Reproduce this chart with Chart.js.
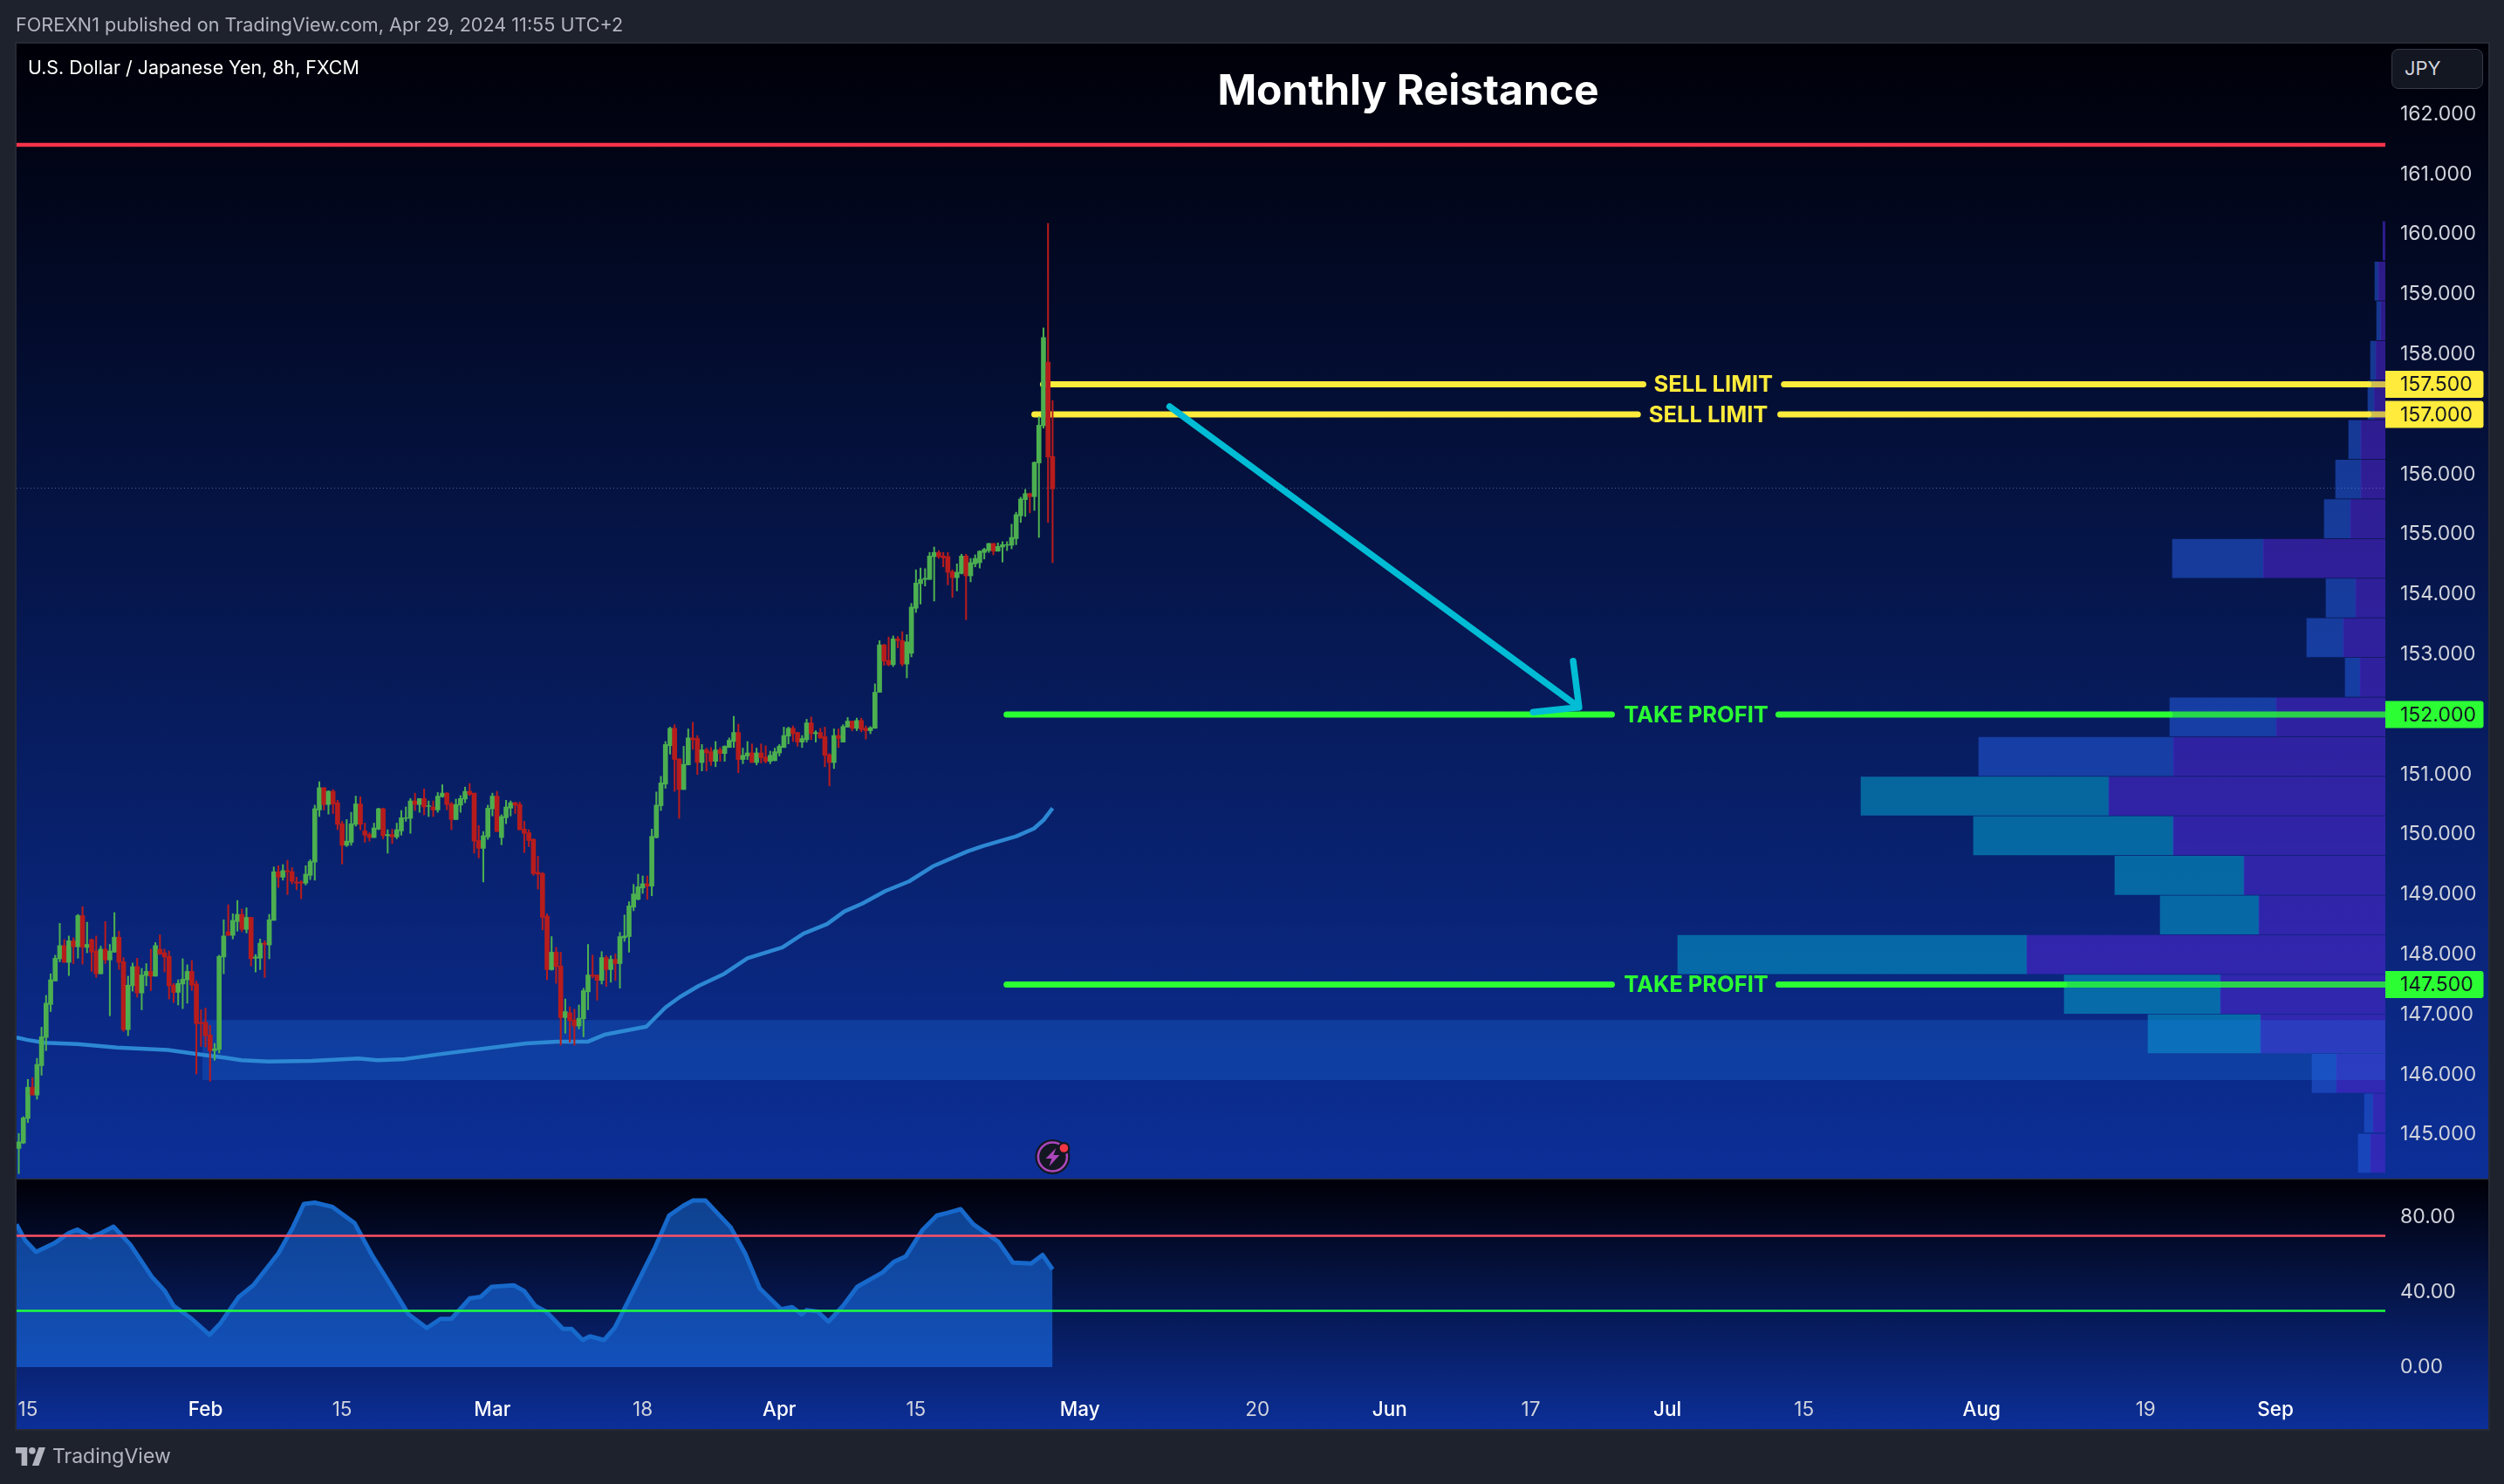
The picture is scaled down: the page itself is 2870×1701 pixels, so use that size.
<!DOCTYPE html>
<html>
<head>
<meta charset="utf-8">
<title>USD/JPY</title>
<script src="https://cdn.jsdelivr.net/npm/chart.js@4/dist/chart.umd.js"></script>
<style>
html, body { margin: 0; padding: 0; background: #1e222d; overflow: hidden; }
body { width: 2870px; height: 1701px; position: relative; font-family: Inter, sans-serif; }
canvas { position: absolute; left: 0; top: 0; }
.txt { position: absolute; white-space: nowrap; }
#published { left: 18px; top: 15px; font-size: 21.6px; color: #b2b5be; }
#symbol { left: 32px; top: 64px; font-size: 21.4px; color: #ffffff; }
#title { left: 1314px; width: 600px; top: 73px; text-align: center; font-size: 48px; font-weight: 700; color: #ffffff; }
#currency { left: 2741px; top: 56px; width: 105px; height: 46px; box-sizing: border-box; border: 1.5px solid #363a45; border-radius: 8px; background: #131722; color: #d1d4dc; font-size: 22px; line-height: 42px; padding-left: 14px; }
#brand { left: 60px; top: 1655px; font-size: 23px; color: #b2b5be; }
#logo { position: absolute; left: 18px; top: 1659px; }
</style>
</head>
<body>
<canvas id="chart" width="2870" height="1701"></canvas>
<div class="txt" id="published">FOREXN1 published on TradingView.com, Apr 29, 2024 11:55 UTC+2</div>
<div class="txt" id="symbol">U.S. Dollar / Japanese Yen, 8h, FXCM</div>
<div class="txt" id="title">Monthly Reistance</div>
<div class="txt" id="currency">JPY</div>
<svg id="logo" width="34" height="21" viewBox="0 0 36 22" fill="#b2b5be"><path d="M14 22H7V7H0V0h14v22zM28 22h-8L28 0h8l-8 22z"/><circle cx="20" cy="4" r="4"/></svg>
<div class="txt" id="brand">TradingView</div>
<script>
// candles, 8h bars, one entry per bar (bar number = position in the array)
const opens = [144.77,144.86,145.27,145.79,145.66,146.15,146.62,147.17,147.56,147.93,148.15,147.87,148.23,148.13,148.65,148.12,148.25,148.06,147.68,148.09,147.91,148.04,148.29,147.88,146.75,147.48,147.80,147.36,147.65,147.72,147.64,148.09,148.03,147.97,147.49,147.37,147.51,147.58,147.72,147.51,146.87,146.87,146.66,146.40,146.42,147.96,148.38,148.32,148.55,148.67,148.42,148.62,147.94,147.94,148.19,148.16,
148.57,149.38,149.29,149.40,149.38,149.21,149.21,149.19,149.32,149.54,150.41,150.78,150.50,150.72,150.53,150.18,149.82,149.87,150.17,150.51,150.06,150.00,149.95,150.09,150.43,149.98,150.00,149.96,150.06,150.27,150.27,150.56,150.50,150.60,150.47,150.46,150.41,150.63,150.69,150.51,150.25,150.49,150.59,150.72,150.69,149.90,149.77,149.96,150.43,150.64,149.95,150.28,150.44,150.53,150.50,150.09,150.03,149.92,149.37,149.35,148.64,147.75,148.04,147.81,146.95,
147.03,146.91,146.81,146.93,147.38,147.66,147.66,147.57,147.95,147.75,147.92,147.85,148.28,148.30,148.79,148.92,149.11,149.18,149.14,149.95,150.48,150.84,151.48,151.77,151.26,150.75,151.16,151.61,151.60,151.20,151.41,151.38,151.22,151.41,151.35,151.45,151.55,151.70,151.25,151.31,151.36,151.20,151.36,151.29,151.22,151.23,151.36,151.45,151.64,151.77,151.70,151.54,151.58,151.86,151.68,151.70,151.63,151.33,151.20,151.65,151.54,151.79,151.89,
151.77,151.90,151.77,151.73,151.77,152.37,153.16,152.90,152.83,153.26,153.23,152.84,153.02,153.77,154.18,154.25,154.25,154.63,154.70,154.64,154.63,154.38,154.28,154.35,154.64,154.31,154.51,154.53,154.70,154.73,154.85,154.72,154.79,154.82,154.82,154.93,155.31,155.58,155.68,155.63,156.19,156.81,157.87,156.30];
const highs = [145.02,145.30,145.92,145.95,146.27,146.79,147.32,147.68,147.99,148.52,148.25,148.31,148.28,148.67,148.80,148.54,148.26,148.31,148.14,148.55,148.17,148.70,148.39,147.95,147.64,147.86,147.94,147.77,147.85,148.09,148.20,148.33,148.09,148.06,147.52,147.58,147.93,147.83,147.90,147.56,147.08,147.11,146.82,146.52,147.99,148.58,148.83,148.68,148.90,148.76,148.78,148.62,148.00,148.26,148.23,148.67,
149.46,149.48,149.50,149.57,149.45,149.29,149.23,149.48,149.58,150.49,150.88,150.78,150.73,150.75,150.57,150.22,150.25,150.37,150.64,150.63,150.19,150.03,150.19,150.44,150.44,150.08,150.09,150.19,150.40,150.46,150.60,150.69,150.60,150.76,150.56,150.56,150.70,150.83,150.70,150.54,150.59,150.65,150.79,150.85,150.69,150.15,150.05,150.49,150.69,150.72,150.33,150.57,150.56,150.54,150.54,150.22,150.08,149.93,149.64,149.37,148.68,148.30,148.12,148.04,147.26,
147.13,147.09,147.16,147.44,148.17,147.99,147.66,148.05,147.98,147.98,148.01,148.37,148.66,148.88,149.17,149.34,149.31,149.31,150.09,150.71,150.97,151.55,151.79,151.83,151.26,151.47,151.76,151.87,151.65,151.50,151.44,151.45,151.55,151.45,151.48,151.61,151.97,151.84,151.44,151.55,151.51,151.44,151.51,151.48,151.39,151.44,151.50,151.79,151.79,151.81,151.70,151.65,151.92,151.96,151.73,151.77,151.79,151.35,151.76,151.76,151.83,151.95,151.89,
151.94,151.94,151.81,151.80,152.51,153.23,153.17,153.29,153.31,153.30,153.38,153.33,153.85,154.41,154.44,154.43,154.70,154.79,154.73,154.70,154.70,154.41,154.51,154.67,154.67,154.60,154.66,154.73,154.77,154.85,154.85,154.86,154.88,154.88,155.17,155.37,155.62,155.75,155.69,156.21,156.96,158.44,160.18,157.23];
const lows = [144.35,144.85,145.20,145.66,145.59,145.99,146.40,147.05,147.56,147.88,147.87,147.65,147.85,147.94,147.84,148.03,147.72,147.62,147.68,147.85,146.98,148.04,147.75,146.72,146.65,147.39,147.29,147.08,147.48,147.40,147.64,148.00,147.71,147.26,147.20,147.16,147.10,147.19,147.40,146.01,146.47,146.46,145.89,146.24,146.36,147.68,148.32,148.26,148.39,148.38,148.36,147.81,147.71,147.75,147.62,147.93,
148.57,149.12,149.24,149.00,149.18,149.08,148.93,149.16,149.25,149.24,150.30,150.41,150.34,150.35,150.08,149.51,149.80,149.82,150.14,150.08,149.87,149.89,149.95,150.08,149.93,149.69,149.85,149.93,149.99,150.22,150.02,150.40,150.37,150.33,150.30,150.30,150.37,150.62,150.41,150.08,150.25,150.37,150.53,150.65,149.69,149.61,149.21,149.92,150.31,150.05,149.83,150.18,150.31,150.35,150.08,149.70,149.80,149.32,149.09,148.41,147.58,147.74,147.52,146.49,146.69,
146.54,146.49,146.76,146.63,147.08,147.61,147.24,147.51,147.47,147.54,147.57,147.44,148.22,148.04,148.73,148.91,149.02,148.92,148.98,149.94,150.40,150.77,151.34,150.72,150.27,150.75,151.16,151.42,151.00,151.06,151.06,151.15,151.13,151.22,151.22,151.45,151.45,151.03,151.18,151.25,151.20,151.16,151.19,151.19,151.18,151.23,151.31,151.45,151.51,151.55,151.47,151.45,151.54,151.58,151.54,151.60,151.13,150.81,151.10,151.45,151.54,151.79,151.73,
151.73,151.71,151.59,151.68,151.77,152.37,152.82,152.81,152.80,153.11,152.81,152.61,152.96,153.70,153.84,154.14,154.25,153.89,154.60,154.46,154.16,153.95,154.06,154.34,153.58,154.21,154.46,154.44,154.59,154.70,154.66,154.72,154.54,154.73,154.76,154.83,155.20,155.30,155.36,155.40,154.95,156.77,155.20,154.53];
const closes = [144.88,145.28,145.79,145.66,146.17,146.63,147.19,147.58,147.94,148.15,147.87,148.23,148.13,148.65,148.12,148.17,148.04,147.68,148.09,147.91,148.06,148.29,147.87,146.75,147.49,147.80,147.36,147.66,147.72,147.64,148.15,148.01,147.96,147.48,147.37,147.52,147.59,147.72,147.49,146.85,146.85,146.65,146.40,146.43,147.97,148.31,148.32,148.57,148.67,148.42,148.62,147.93,147.96,148.19,148.17,148.58,
149.38,149.29,149.40,149.38,149.22,149.19,149.19,149.34,149.55,150.43,150.78,150.50,150.72,150.51,150.17,149.82,149.89,150.18,150.51,150.17,149.99,149.95,150.11,150.43,149.98,150.00,149.96,150.08,150.28,150.28,150.56,150.50,150.60,150.46,150.48,150.41,150.64,150.69,150.50,150.25,150.50,150.60,150.72,150.67,149.89,149.77,149.98,150.44,150.64,150.05,150.30,150.46,150.53,150.49,150.08,150.02,149.90,149.35,149.34,148.62,147.75,148.04,147.80,146.95,147.05,
146.90,146.81,146.94,147.40,147.66,147.64,147.57,147.95,147.75,147.92,147.85,148.30,148.31,148.81,149.01,149.13,149.18,149.14,149.97,150.49,150.86,151.50,151.77,151.25,150.75,151.17,151.61,151.58,151.20,151.41,151.36,151.22,151.41,151.35,151.47,151.57,151.70,151.25,151.32,151.36,151.20,151.36,151.28,151.22,151.32,151.38,151.47,151.65,151.77,151.68,151.54,151.60,151.86,151.68,151.70,151.61,151.32,151.20,151.65,151.60,151.80,151.89,151.77,
151.90,151.75,151.73,151.78,152.37,153.16,152.89,152.83,153.26,153.23,152.84,153.21,153.79,154.19,154.25,154.27,154.64,154.70,154.63,154.61,154.37,154.28,154.37,154.64,154.31,154.53,154.60,154.72,154.75,154.85,154.72,154.80,154.83,154.83,154.95,155.33,155.59,155.68,155.63,156.20,156.82,158.28,156.29,155.76];

// moving average, read where the line bends
const maBars = [-0.5,1.8,5.7,12.9,21.6,32.7,40.3,45.5,48.9,54.8,64.3,74.6,78.8,84.8,92.4,102.8,111.4,118.1,125,128.8,137.8,142,145.1,149.3,154.9,160,167.7,172.3,177.5,181.3,185.2,190.3,195.5,200.7,208.3,211.8,219,222.9,225,227];
const maValues = [146.62,146.58,146.53,146.51,146.45,146.41,146.33,146.28,146.24,146.22,146.23,146.27,146.24,146.26,146.34,146.44,146.52,146.55,146.55,146.67,146.80,147.12,147.29,147.48,147.68,147.94,148.12,148.35,148.51,148.72,148.85,149.06,149.22,149.47,149.72,149.81,149.97,150.10,150.24,150.44];

// RSI pane
const rsiBars = [-0.5,1.4,3.8,7.8,11,12.9,15.7,18.1,20.8,24.5,29.2,32.1,34,38,41.9,44.3,48.3,51.5,57,60.2,62.6,65,68.9,73.7,77.7,81.7,85.6,89.6,92.6,95,99,101.4,103.8,108.7,111,113.4,115.8,119.5,121.4,123.8,125.4,128.5,130.9,135.7,139.7,142.8,146,148,150.8,156.3,159.5,162.7,167.4,169.8,171.9,173,175.4,177.8,181,184.1,189.7,192.1,194.8,198.4,201.6,204,206.8,209.6,215.1,218.3,222.3,224.8,227];
const rsiValues = [76.1,67.6,61.4,66,71.5,73.3,69.2,71.5,74.9,65.3,48.2,40.5,32.7,25.7,17.2,23.4,37.4,43.6,60.6,74.6,87,87.7,85.4,76.9,59.1,43.6,28.1,20.8,25.7,25.7,36.6,37.4,42.8,43.6,40.5,32.7,29.6,20.3,20.3,14.4,16.4,14.4,21.1,44.3,63.7,80.8,86.2,88.8,88.8,74.6,60.6,42,30.8,32,28.1,30.4,29.6,24.2,32.7,42.8,50.5,56,59.1,73,80.8,82.3,84.2,76.1,66.8,55.7,55.2,59.8,52.1];
const rsiUpper = 70;
const rsiLower = 30;

// volume profile rows
const profilePrices = [159.89,159.22,158.56,157.90,157.24,156.58,155.92,155.26,154.60,153.94,153.28,152.62,151.96,151.30,150.64,149.98,149.32,148.66,148.00,147.34,146.68,146.02,145.36,144.69];
const profileSell = [2.4,8,5.3,11,13,28,28,40,140,34,48,29,125,243,317,243,162,145,411,189,143,56,14,17];
const profileBuy = [0,4,4.7,6,7,14,29,30,104,34,42,17,122,223,284,229,148,113,400,179,129,28,10,14];
const profileTeal = [false,false,false,false,false,false,false,false,false,false,false,false,false,false,true,true,true,true,true,true,true,false,false,false];

// drawn levels: price, where the line starts, the gap kept for its label, where the profile begins
const levelPrices = [157.5,157,152,147.5];
const levelColors = ["#ffeb3b","#ffeb3b","#2bff33","#2bff33"];
const levelOverlay = ["rgba(255,235,59,0.78)","rgba(255,235,59,0.78)","rgba(43,255,51,0.8)","rgba(43,255,51,0.8)"];
const levelStart = [224.9,223,216.9,216.9];
const gapStart = [356.7,355.5,349.8,349.8];
const gapEnd = [387.6,386.8,386.4,386.4];
const levelProfileEdge = [515.9,515.9,472.3,449.1];
const levelNames = ["SELL LIMIT","SELL LIMIT","TAKE PROFIT","TAKE PROFIT"];
const levelNameBars = [372.1,371,368.3,368.3];

const resistancePrice = 161.49;
const lastPrice = 155.77;
const zoneTop = 146.91;
const zoneBottom = 145.91;
const zoneStartBar = 40.3;

const arrowBars = [252.7,342.6,341.3,342.6,332.5];
const arrowPrices = [157.13,152.12,152.89,152.12,152.04];

const priceTicks = [145,146,147,148,149,150,151,152,153,154,155,156,158,159,160,161,162];
const rsiTicks = [0,40,80];
const timeTicks = [2,41,71,104,137,167,197,233,272,301,332,362,392,431,467,495.5];
const timeLabels = ["15","Feb","15","Mar","18","Apr","15","May","20","Jun","17","Jul","15","Aug","19","Sep"];

const GREEN = "#4caf50", RED = "#b71c1c";
const firstBar = -0.48, endBar = 519.64;

const bars = opens.map((o, i) => i);
const candleColors = bars.map(i => closes[i] >= opens[i] ? GREEN : RED);
const points = (xs, ys) => xs.map((x, i) => ({ x: x, y: ys[i] }));
const hLine = (from, to, y) => [{ x: from, y: y }, { x: to, y: y }];

const lineBase = { type: "line", pointRadius: 0, tension: 0, fill: false, clip: 0, xAxisID: "x", yAxisID: "y" };
const datasets = [];

// profile, sell side against the axis, buy side beyond it
datasets.push({
    type: "bar", indexAxis: "y", xAxisID: "xVol", yAxisID: "y", grouped: false, barThickness: 44, order: 60,
    data: profilePrices.map((p, i) => ({ x: [0, profileSell[i]], y: p })),
    backgroundColor: "rgba(75,38,205,0.6)"
});
datasets.push({
    type: "bar", indexAxis: "y", xAxisID: "xVol", yAxisID: "y", grouped: false, barThickness: 44, order: 60,
    data: profilePrices.map((p, i) => ({ x: [profileSell[i], profileSell[i] + profileBuy[i]], y: p })),
    backgroundColor: profileTeal.map(t => t ? "rgba(5,152,197,0.6)" : "rgba(33,85,210,0.6)")
});

// demand zone
datasets.push({
    ...lineBase, order: 50, borderWidth: 0, backgroundColor: "rgba(27,122,236,0.25)",
    data: hLine(zoneStartBar, endBar, zoneTop), fill: { value: zoneBottom }
});

// red resistance and last price dots
datasets.push({ ...lineBase, order: 45, borderColor: "#f7334a", borderWidth: 4.5, data: hLine(firstBar, endBar, resistancePrice) });
datasets.push({ ...lineBase, order: 45, borderColor: "rgba(130,150,210,0.6)", borderWidth: 1, borderDash: [1, 3], data: hLine(firstBar, endBar, lastPrice) });

// sell limit / take profit levels
levelPrices.forEach((p, i) => {
    const seg = { ...lineBase, order: 40, borderColor: levelColors[i], borderWidth: 7, borderCapStyle: "round" };
    datasets.push({ ...seg, data: hLine(levelStart[i], gapStart[i], p) });
    datasets.push({ ...seg, data: hLine(gapEnd[i], levelProfileEdge[i], p) });
    datasets.push({ ...seg, borderCapStyle: "butt", borderColor: levelOverlay[i], data: hLine(levelProfileEdge[i], endBar, p) });
});

// moving average under the candles
datasets.push({ ...lineBase, order: 30, borderColor: "#2d88d4", borderWidth: 4.5, borderJoinStyle: "round", data: points(maBars, maValues) });

// candles: wick then body
datasets.push({
    type: "bar", xAxisID: "x", yAxisID: "y", grouped: false, barThickness: 1.4, order: 20,
    data: bars.map(i => ({ x: i, y: [lows[i], highs[i]] })), backgroundColor: candleColors
});
datasets.push({
    type: "bar", xAxisID: "x", yAxisID: "y", grouped: false, barThickness: 5, order: 19,
    data: bars.map(i => ({ x: i, y: [opens[i], closes[i]] })), backgroundColor: candleColors
});

// arrow
datasets.push({
    ...lineBase, order: 10, borderColor: "#00bcd4", borderWidth: 7.5, borderCapStyle: "round", borderJoinStyle: "round",
    data: points(arrowBars, arrowPrices)
});

// RSI pane
datasets.push({
    ...lineBase, yAxisID: "yRsi", order: 35, borderColor: "#1769cb", borderWidth: 5, borderJoinStyle: "round",
    backgroundColor: "rgba(28,118,246,0.55)", fill: { value: 0 }, data: points(rsiBars, rsiValues)
});
datasets.push({ ...lineBase, yAxisID: "yRsi", order: 34, borderColor: "#ff5264", borderWidth: 2.5, data: hLine(firstBar, endBar, rsiUpper) });
datasets.push({ ...lineBase, yAxisID: "yRsi", order: 34, borderColor: "#1eff3c", borderWidth: 2.5, data: hLine(firstBar, endBar, rsiLower) });

const paneFrame = {
    id: "paneFrame",
    beforeDraw(chart) {
        const { ctx } = chart;
        const paneLeft = 19, paneRight = 2852, splitY = chart.scales.y.bottom, paneBottom = 1638;
        const shade = (top, bottom) => {
            const g = ctx.createLinearGradient(0, top, 0, bottom);
            g.addColorStop(0, "#000008");
            g.addColorStop(1, "#0c2f98");
            ctx.fillStyle = g;
            ctx.fillRect(paneLeft, top, paneRight - paneLeft, bottom - top);
        };
        ctx.save();
        ctx.fillStyle = "#1e222d";
        ctx.fillRect(0, 0, chart.width, chart.height);
        shade(chart.scales.y.top, splitY);
        shade(splitY + 1, paneBottom);
        ctx.strokeStyle = "#2a2e39";
        ctx.lineWidth = 1.5;
        ctx.strokeRect(paneLeft - 1, chart.scales.y.top - 1, paneRight - paneLeft + 2, paneBottom - chart.scales.y.top + 2);
        ctx.beginPath();
        ctx.moveTo(paneLeft, splitY + 0.5);
        ctx.lineTo(paneRight, splitY + 0.5);
        ctx.stroke();
        ctx.restore();
    },
    afterDatasetsDraw(chart) {
        const { ctx } = chart;
        const x = chart.scales.x, y = chart.scales.y;
        ctx.save();
        ctx.textBaseline = "middle";

        // level names
        ctx.font = "700 25.5px Inter";
        ctx.textAlign = "center";
        levelPrices.forEach((p, i) => {
            ctx.fillStyle = levelColors[i];
            ctx.fillText(levelNames[i], x.getPixelForValue(levelNameBars[i]), y.getPixelForValue(p) + 1);
        });

        // axis tags
        ctx.textAlign = "left";
        ctx.font = "23px Inter";
        levelPrices.forEach((p, i) => {
            const py = y.getPixelForValue(p);
            ctx.fillStyle = levelColors[i];
            ctx.beginPath();
            ctx.roundRect(x.right, py - 15.5, 112.5, 31, [0, 3, 3, 0]);
            ctx.fill();
            ctx.fillStyle = "#131722";
            ctx.fillText(p.toFixed(3), x.right + 17, py + 1);
        });

        // event marker on the last bar
        const mx = x.getPixelForValue(bars[bars.length - 1]), my = 1326;
        ctx.fillStyle = "#131722";
        ctx.beginPath(); ctx.arc(mx, my, 20, 0, Math.PI * 2); ctx.fill();
        ctx.strokeStyle = "#ab47bc"; ctx.lineWidth = 2.5;
        ctx.beginPath(); ctx.arc(mx, my, 16.5, 0, Math.PI * 2); ctx.stroke();
        ctx.fillStyle = "#ab47bc";
        ctx.beginPath();
        ctx.moveTo(mx + 4, my - 10); ctx.lineTo(mx - 8, my + 2); ctx.lineTo(mx - 1, my + 2);
        ctx.lineTo(mx - 4, my + 11); ctx.lineTo(mx + 8, my - 2); ctx.lineTo(mx + 1, my - 2);
        ctx.closePath(); ctx.fill();
        ctx.fillStyle = "#131722";
        ctx.beginPath(); ctx.arc(mx + 13, my - 10, 7, 0, Math.PI * 2); ctx.fill();
        ctx.fillStyle = "#f23645";
        ctx.beginPath(); ctx.arc(mx + 13, my - 10, 4.8, 0, Math.PI * 2); ctx.fill();
        ctx.restore();
    }
};

const axisFont = { family: "Inter", size: 23 };

new Chart(document.getElementById("chart"), {
    type: "line",
    data: { datasets: datasets },
    plugins: [paneFrame],
    options: {
        responsive: false,
        devicePixelRatio: 1,
        animation: false,
        events: [],
        layout: { padding: { left: 19, right: 18, top: 50, bottom: 63 } },
        plugins: { legend: { display: false }, tooltip: { enabled: false }, title: { display: false } },
        scales: {
            x: {
                type: "linear", min: firstBar, max: endBar, offset: false, position: "bottom",
                grid: { display: false }, border: { display: false },
                afterFit(s) { s.height = 48; },
                afterBuildTicks(s) { s.ticks = timeTicks.map(v => ({ value: v })); },
                ticks: {
                    autoSkip: false, maxRotation: 0, padding: 5,
                    font: c => ({ family: "Inter", size: 22.5, weight: isNaN(timeLabels[c.index]) ? 500 : 400 }),
                    color: c => isNaN(timeLabels[c.index]) ? "#ffffff" : "#d1d4dc",
                    callback: (v, i) => timeLabels[i]
                }
            },
            xVol: {
                type: "linear", min: 0, max: 2715, reverse: true, display: false, offset: false,
                position: "bottom", grid: { display: false }
            },
            y: {
                type: "linear", position: "right", stack: "panes", stackWeight: 1301, weight: 1, offset: false,
                min: 144.267, max: 163.177,
                grid: { display: false }, border: { display: false },
                afterFit(s) { s.width = 118; },
                afterBuildTicks(s) { s.ticks = priceTicks.map(v => ({ value: v })); },
                ticks: { autoSkip: false, padding: 9, color: "#d1d4dc", font: axisFont, callback: v => v.toFixed(3) }
            },
            yRsi: {
                type: "linear", position: "right", stack: "panes", stackWeight: 239, weight: 2, offset: false,
                min: -10.7, max: 100.47,
                grid: { display: false }, border: { display: false },
                afterFit(s) { s.width = 118; },
                afterBuildTicks(s) { s.ticks = rsiTicks.map(v => ({ value: v })); },
                ticks: { autoSkip: false, padding: 9, color: "#d1d4dc", font: axisFont, callback: v => v.toFixed(2) }
            }
        }
    }
});
</script>
</body>
</html>
